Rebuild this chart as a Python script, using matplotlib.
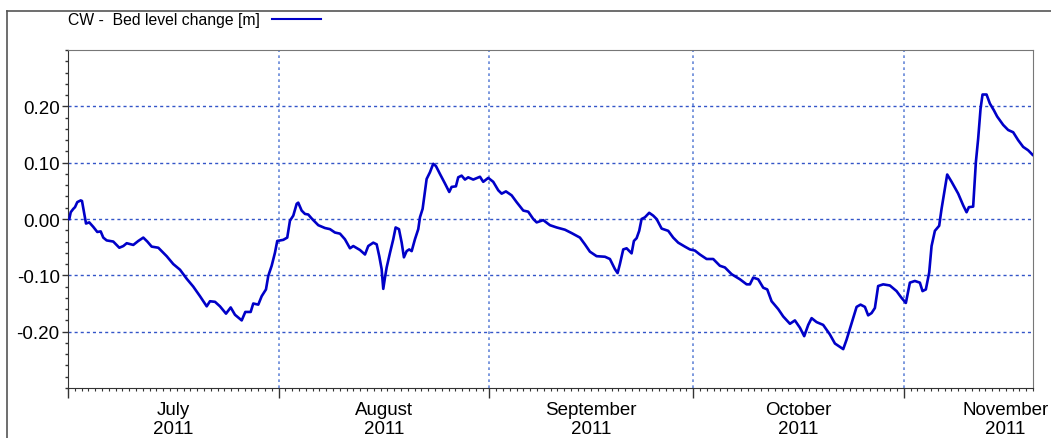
import matplotlib
matplotlib.use("Agg")
import matplotlib.pyplot as plt
import matplotlib.dates as mdates
from matplotlib.lines import Line2D
from matplotlib.ticker import MultipleLocator, FormatStrFormatter
import numpy as np
import pandas as pd

plt.rcParams['font.family'] = ['Liberation Sans', 'DejaVu Sans']

# Bed level change at CW, days counted from 1 July 2011
dias = [0.19, 0.40, 0.78, 1.03, 1.37, 1.87, 2.06, 2.35, 2.65, 3.13, 3.72, 4.31, 4.81,
        5.19, 5.69, 6.66, 7.55, 8.14, 8.64, 9.61, 10.34, 11.08, 11.67, 12.31, 13.29,
        13.79, 14.52, 15.49, 16.48, 17.46, 18.43, 19.42, 20.41, 20.89, 21.63, 22.36,
        23.25, 23.94, 24.57, 25.56, 26.09, 26.88, 27.26, 28.00, 28.50, 29.13, 29.47,
        29.97, 30.45, 30.79, 31.68, 32.26, 32.66, 33.15, 33.65, 33.88, 34.38, 34.87,
        35.35, 35.85, 36.83, 37.81, 38.55, 39.28, 40.02, 40.75, 41.49, 41.98, 42.96,
        43.70, 44.18, 44.92, 45.42, 45.80, 46.15, 46.39, 46.64, 46.89, 47.38, 47.86,
        48.21, 48.70, 49.10, 49.43, 49.83, 50.21, 50.57, 51.05, 51.54, 51.79, 52.18,
        52.52, 52.77, 53.26, 53.74, 54.14, 54.73, 55.47, 56.10, 56.45, 57.08, 57.42,
        57.92, 58.41, 58.89, 59.63, 60.62, 61.10, 61.84, 62.57, 63.31, 63.81, 64.44,
        65.28, 66.01, 66.99, 67.72, 68.46, 68.96, 69.93, 70.92, 71.90, 73.12, 74.11,
        75.33, 76.06, 76.80, 77.78, 79.01, 79.74, 80.48, 80.87, 81.21, 81.70, 82.20,
        82.93, 83.27, 83.67, 84.05, 84.40, 84.89, 85.52, 86.11, 86.61, 87.35, 88.32,
        89.05, 89.79, 90.77, 91.51, 92.24, 92.98, 93.97, 94.94, 95.92, 96.66, 97.65,
        98.87, 99.86, 100.34, 100.83, 101.56, 102.30, 102.89, 103.53, 104.51, 105.24,
        106.23, 106.96, 107.70, 108.33, 108.92, 109.42, 110.15, 111.12, 112.11, 112.85,
        114.07, 114.57, 115.30, 116.04, 116.62, 117.26, 117.74, 118.24, 118.73, 119.21,
        119.95, 120.93, 121.92, 122.65, 123.29, 123.88, 124.61, 125.35, 125.74, 126.23,
        126.72, 127.07, 127.56, 128.19, 128.54, 129.03, 129.37, 130.02, 130.99, 131.73,
        132.22, 132.56, 133.19, 133.59, 133.93, 134.28, 134.57, 135.16, 135.65, 136.24,
        136.72, 137.61, 138.34, 139.08, 139.81, 140.55, 141.28, 141.93]
cambio = [0.000, 0.012, 0.018, 0.021, 0.030, 0.033, 0.032, 0.012, -0.008, -0.006, -0.014,
          -0.023, -0.022, -0.033, -0.038, -0.040, -0.051, -0.048, -0.043, -0.046, -0.039,
          -0.033, -0.040, -0.049, -0.051, -0.057, -0.066, -0.080, -0.090, -0.106, -0.120,
          -0.137, -0.155, -0.146, -0.147, -0.155, -0.168, -0.157, -0.170, -0.180, -0.165,
          -0.165, -0.150, -0.152, -0.137, -0.125, -0.101, -0.083, -0.060, -0.039, -0.037,
          -0.033, -0.003, 0.006, 0.027, 0.029, 0.015, 0.009, 0.008, 0.001, -0.011, -0.016,
          -0.018, -0.024, -0.026, -0.036, -0.052, -0.048, -0.055, -0.063, -0.048, -0.042,
          -0.045, -0.066, -0.089, -0.124, -0.104, -0.086, -0.060, -0.036, -0.015, -0.018,
          -0.042, -0.068, -0.057, -0.054, -0.057, -0.036, -0.018, 0.003, 0.018, 0.048,
          0.071, 0.083, 0.098, 0.094, 0.080, 0.063, 0.048, 0.057, 0.058, 0.074, 0.077,
          0.070, 0.074, 0.070, 0.075, 0.066, 0.073, 0.066, 0.051, 0.045, 0.049, 0.042,
          0.030, 0.015, 0.013, 0.000, -0.006, -0.002, -0.011, -0.015, -0.019, -0.025,
          -0.033, -0.045, -0.058, -0.066, -0.067, -0.071, -0.089, -0.096, -0.080, -0.054,
          -0.052, -0.061, -0.039, -0.034, -0.021, 0.000, 0.003, 0.011, 0.006, 0.000,
          -0.017, -0.021, -0.033, -0.042, -0.049, -0.054, -0.056, -0.063, -0.071, -0.071,
          -0.083, -0.086, -0.098, -0.107, -0.116, -0.116, -0.104, -0.107, -0.122, -0.125,
          -0.146, -0.160, -0.173, -0.186, -0.180, -0.193, -0.208, -0.188, -0.176, -0.183,
          -0.188, -0.205, -0.221, -0.231, -0.214, -0.185, -0.156, -0.152, -0.156, -0.171,
          -0.167, -0.158, -0.119, -0.116, -0.118, -0.128, -0.140, -0.149, -0.113, -0.110,
          -0.113, -0.128, -0.125, -0.095, -0.048, -0.021, -0.012, 0.018, 0.054, 0.079,
          0.066, 0.045, 0.024, 0.012, 0.021, 0.022, 0.101, 0.143, 0.196, 0.221, 0.221,
          0.205, 0.193, 0.182, 0.167, 0.158, 0.154, 0.140, 0.128, 0.122, 0.114]

meses = ['July', 'August', 'September', 'October', 'November']
centro_mes = [15.5, 46.5, 77.0, 107.5, 137.9]   # day where each month label sits
anio = '2011'

inicio = pd.Timestamp('2011-07-01')
fin = pd.Timestamp('2011-11-20')
fechas = inicio + pd.to_timedelta(np.array(dias), unit='D')

fig = plt.figure(figsize=(10.51, 4.39), dpi=100)
ax = fig.add_axes([0.0647, 0.1139, 0.9182, 0.7699])

ax.plot(fechas, cambio, color='#0000C8', lw=1.9, zorder=3)

ax.set_xlim(inicio, fin)
ax.set_ylim(-0.30, 0.30)

# grid
azul_grid = '#3355C8'
for v in [-0.2, -0.1, 0.0, 0.1, 0.2]:
    ax.axhline(v, color=azul_grid, lw=1.0, ls=(0, (2.2, 2.2)), zorder=1)
for m in ['2011-08-01', '2011-09-01', '2011-10-01', '2011-11-01']:
    ax.axvline(pd.Timestamp(m), color='#6688D8', lw=1.2, ls=(0, (1.6, 2.0)), zorder=1)

# y axis
ax.yaxis.set_minor_locator(MultipleLocator(0.02))
ax.yaxis.set_major_formatter(FormatStrFormatter('%.2f'))
ax.set_yticks([-0.2, -0.1, 0.0, 0.1, 0.2])
ax.tick_params(axis='y', which='major', direction='out', length=4, width=1,
               color='#333333', labelsize=13.5, pad=2)
ax.tick_params(axis='y', which='minor', direction='out', length=2.5, width=1,
               color='#333333')

# x axis: month ticks + daily minor ticks
ax.xaxis.set_major_locator(mdates.MonthLocator())
ax.xaxis.set_minor_locator(mdates.DayLocator())
ax.xaxis.set_major_formatter(plt.NullFormatter())
ax.tick_params(axis='x', which='major', direction='out', length=7.5, width=1,
               color='#333333')
ax.tick_params(axis='x', which='minor', direction='out', length=2.4, width=0.8,
               color='#333333')

for mes, c in zip(meses, centro_mes):
    ax.text(inicio + pd.Timedelta(days=c), -0.038, mes + '\n' + anio,
            transform=ax.get_xaxis_transform(), ha='center', va='top',
            fontsize=13.5, linespacing=1.15)

for lado in ['left', 'bottom']:
    ax.spines[lado].set_color('#333333')
for lado in ['top', 'right']:
    ax.spines[lado].set_color('#777777')

# legend above the plot
fig.text(68 / 1051, 1 - 20 / 439, 'CW -  Bed level change [m]', fontsize=11.3,
         va='center', ha='left')
fig.add_artist(Line2D([272 / 1051, 321 / 1051], [1 - 20 / 439, 1 - 20 / 439],
                      color='#0000C8', lw=1.5))

# outer frame
xb, yb = 7 / 1051, 1 - 12 / 439
fig.add_artist(Line2D([xb, 1.0], [yb, yb], color='#555555', lw=1.2))
fig.add_artist(Line2D([xb, xb], [0.0, yb], color='#555555', lw=1.2))

fig.savefig('out.png', dpi=100)
